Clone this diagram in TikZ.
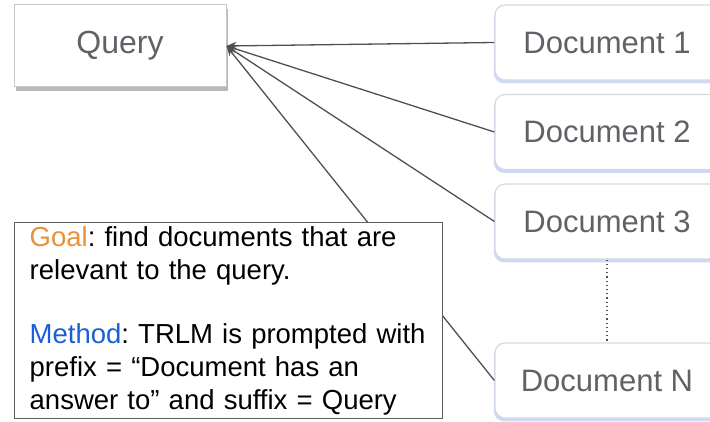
\documentclass[tikz,border=0pt]{standalone}
\usepackage{fontspec}
\setmainfont{Liberation Sans}
\usetikzlibrary{arrows.meta,shadows}

\begin{document}
\frenchspacing
\begin{tikzpicture}[x=1pt,y=-1pt,
  querybox/.style={draw=qborder, line width=1pt, fill=white,
    minimum width=212pt, minimum height=82pt,
    font=\fontsize{32}{36}\selectfont, text=txtgray,
    drop shadow={shadow xshift=1.5pt, shadow yshift=-4pt, fill=qshadow, opacity=1}},
  docbox/.style={draw=dborder, line width=1.2pt, fill=white, rounded corners=10pt,
    minimum width=224pt, minimum height=75pt,
    font=\fontsize{31}{35}\selectfont, text=txtgray,
    drop shadow={shadow xshift=0pt, shadow yshift=-3pt, shadow scale=1.01, fill=dshadow, opacity=1}},
  notebox/.style={draw=nborder, line width=1.4pt, fill=white, align=left,
    text width=398pt, inner xsep=15pt, inner ysep=0pt, minimum height=196pt,
    font=\fontsize{27.5}{33}\selectfont},
  link/.style={draw=linkgray, line width=1.3pt, -{Stealth[length=10pt,width=8pt]}},
  ]

\definecolor{txtgray}{RGB}{95,99,104}
\definecolor{qborder}{RGB}{200,200,200}
\definecolor{qshadow}{RGB}{185,185,185}
\definecolor{dborder}{RGB}{215,217,222}
\definecolor{dshadow}{RGB}{205,218,245}
\definecolor{nborder}{RGB}{95,95,95}
\definecolor{linkgray}{RGB}{80,80,80}
\definecolor{goalorange}{RGB}{232,145,56}
\definecolor{methodblue}{RGB}{26,95,214}

\useasboundingbox (0,0) rectangle (710,422);
\clip (0,0) rectangle (710,422);

\node[querybox] (query) at (120,46) {Query};

\node[docbox] (doc1) at (607,42.5) {Document 1};
\node[docbox] (doc2) at (607,132) {Document 2};
\node[docbox] (doc3) at (607,221.5) {Document 3};
\node[docbox] (docN) at (607,380.5) {Document N};

\draw[linkgray, line width=1.2pt, dash pattern=on 1.2pt off 3pt] (doc3.south) -- (docN.north);

\foreach \d in {doc1,doc2,doc3,docN}
  \draw[link] (\d.west) -- (query.east);

% note on top of the links
\node[notebox, anchor=north west] (note) at (14,222) {%
  \textcolor{goalorange}{Goal}: find documents that are\\
  relevant to the query.\\[31pt]
  \textcolor{methodblue}{Method}: TRLM is prompted with\\
  prefix = “Document has an\\
  answer to” and suffix = Query};

\end{tikzpicture}
\end{document}
